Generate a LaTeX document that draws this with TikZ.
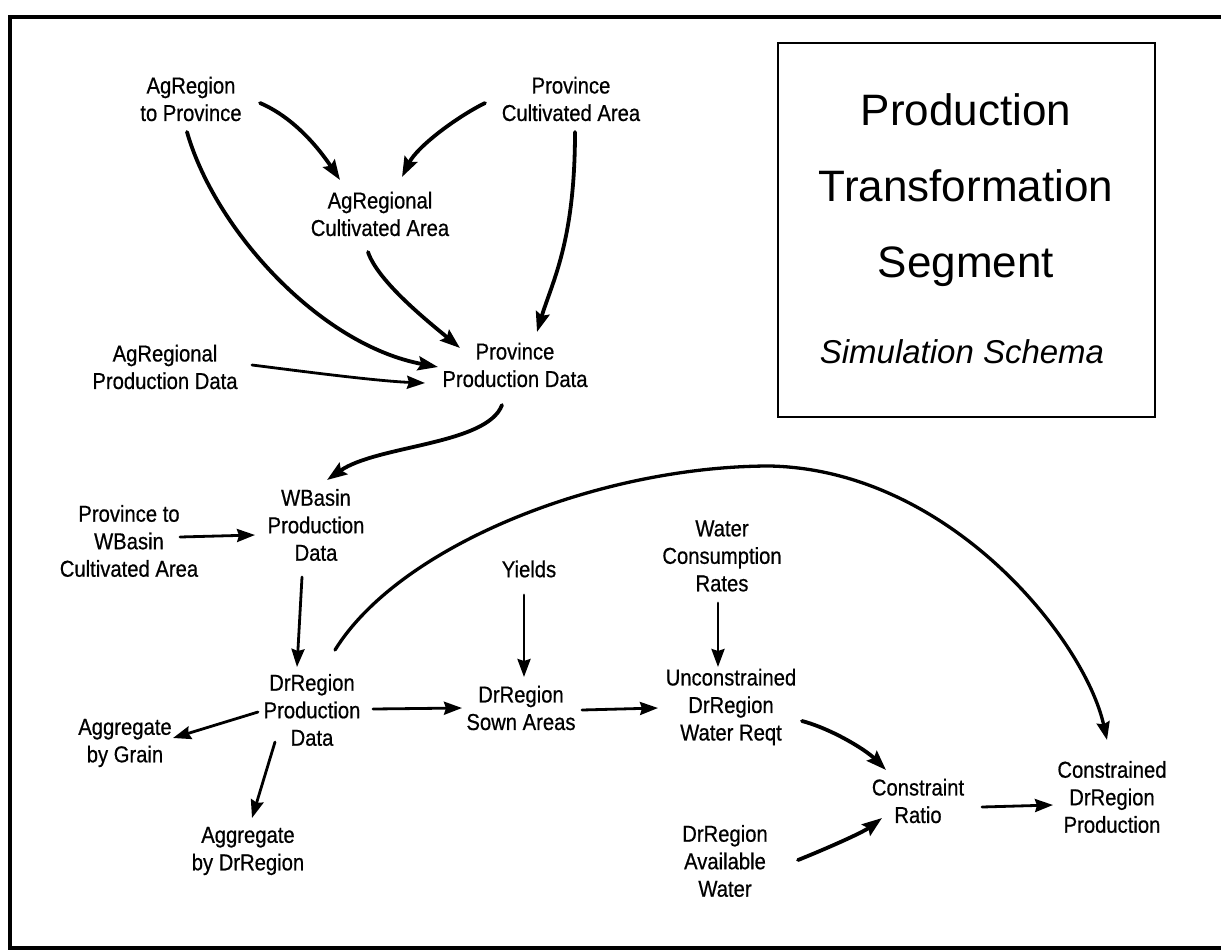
\documentclass[tikz,border=0pt]{standalone}
\usepackage{fontspec}
\usetikzlibrary{arrows.meta}
\newfontfamily\lblfont[FakeStretch=0.88,FakeBold=0.6]{Liberation Sans}
\newfontfamily\ttlfont{Liberation Sans}
\begin{document}
\begin{tikzpicture}[x=1pt,y=-1pt,
  lbl/.style={font=\lblfont\fontsize{23}{27.5}\selectfont, align=center, inner sep=0pt},
  heavy/.style={line width=3.8pt, line cap=round, line join=round,
    -{Stealth[length=20pt,width=14pt,inset=3pt]}},
  medium/.style={line width=2.8pt, line cap=round, line join=round,
    -{Stealth[length=18pt,width=13pt,inset=2pt]}},
  frame/.style={line width=3.5pt},
  titlebox/.style={line width=2.5pt}]
\useasboundingbox[fill=white] (0,0) rectangle (1221,951);

% outer page frame (open on the right)
\draw[frame] (1240,17) -- (10,17) -- (10,948) -- (1240,948);

% title panel
\draw[titlebox] (778,43) rectangle (1155,417);
\node[font=\ttlfont\fontsize{44}{76}\selectfont, align=center, inner sep=0pt] (title)
  at (966,190) {Production\\Transformation\\Segment};
\node[font=\ttlfont\itshape\fontsize{33}{40}\selectfont, inner sep=0pt, anchor=base] (subtitle)
  at (962,363) {Simulation Schema};

% data nodes
\node[lbl] (a2p)  at (191,99)   {AgRegion\\to Province};
\node[lbl] (pca)  at (571,99)   {Province\\Cultivated Area};
\node[lbl] (arca) at (380,214)  {AgRegional\\Cultivated Area};
\node[lbl] (ppd)  at (515,365)  {Province\\Production Data};
\node[lbl] (arpd) at (165,367)  {AgRegional\\Production Data};
\node[lbl] (wpd)  at (316,525)  {WBasin\\Production\\Data};
\node[lbl] (p2w)  at (129,541)  {Province to\\WBasin\\Cultivated Area};
\node[lbl] (yld)  at (529,569)  {Yields};
\node[lbl] (wcr)  at (722,556)  {Water\\Consumption\\Rates};
\node[lbl] (drpd) at (312,710)  {DrRegion\\Production\\Data};
\node[lbl] (sown) at (521,708)  {DrRegion\\Sown Areas};
\node[lbl] (unc)  at (731,707)  {Unconstrained\\DrRegion\\Water Reqt};
\node[lbl] (agg)  at (125,743)  {Aggregate\\by Grain};
\node[lbl] (agd)  at (248,851)  {Aggregate\\by DrRegion};
\node[lbl] (cr)   at (918,801)  {Constraint\\Ratio};
\node[lbl] (cdp)  at (1112,797) {Constrained\\DrRegion\\Production};
\node[lbl] (daw)  at (725,861)  {DrRegion\\Available\\Water};

% connectors
\draw[heavy] ([shift={(69,4)}]a2p.center) .. controls +(35,15) and +(-20,-30) .. ([shift={(-40,-34)}]arca.center);
\draw[heavy] ([shift={(-86,4)}]pca.center) .. controls +(-30,15) and +(15,-30) .. ([shift={(22,-37)}]arca.center);
\draw[heavy] ([shift={(-4,33)}]a2p.center) .. controls +(28,98) and +(-118,-22) .. ([shift={(-77,2)}]ppd.center);
\draw[heavy] ([shift={(-12,38)}]arca.center) .. controls +(10,30) and +(-30,-25) .. ([shift={(-55,-17)}]ppd.center);
\draw[heavy] ([shift={(4,33)}]pca.center) .. controls +(0,110) and +(15,-50) .. ([shift={(22,-33)}]ppd.center);
\draw[medium] ([shift={(87,-2)}]arpd.center) .. controls +(40,5) and +(-50,-2) .. ([shift={(-90,18)}]ppd.center);
\draw[heavy] ([shift={(-13,40)}]ppd.center) .. controls +(-15,40) and +(50,-35) .. ([shift={(11,-45)}]wpd.center);
\draw[medium] ([shift={(51,-4)}]p2w.center) -- ([shift={(-61,10)}]wpd.center);
\draw[medium] ([shift={(-14,52)}]wpd.center) -- ([shift={(-15,-43)}]drpd.center);
\draw[medium] ([shift={(-54,2)}]drpd.center) -- ([shift={(48,-5)}]agg.center);
\draw[medium] ([shift={(-37,32)}]drpd.center) -- ([shift={(4,-33)}]agd.center);
\draw[medium] ([shift={(61,-1)}]drpd.center) -- ([shift={(-59,0)}]sown.center);
\draw[medium] ([shift={(-5,26)}]yld.center) -- ([shift={(3,-31)}]sown.center);
\draw[medium] ([shift={(61,2)}]sown.center) -- ([shift={(-73,1)}]unc.center);
\draw[medium] ([shift={(-4,47)}]wcr.center) -- ([shift={(-13,-40)}]unc.center);
\draw[heavy] ([shift={(71,14)}]unc.center) .. controls +(30,8) and +(-20,-20) .. ([shift={(-32,-31)}]cr.center);
\draw[heavy] ([shift={(73,-1)}]daw.center) .. controls +(25,-10) and +(-20,15) .. ([shift={(-36,17)}]cr.center);
\draw[medium] ([shift={(64,6)}]cr.center) -- ([shift={(-59,8)}]cdp.center);
\draw[medium, line width=3.3pt] ([shift={(23,-60)}]drpd.center)
  .. controls (400,545) and (600,466) .. (770,466)
  .. controls (950,470) and (1085,640) .. ([shift={(-5,-57)}]cdp.center);
\end{tikzpicture}
\end{document}
